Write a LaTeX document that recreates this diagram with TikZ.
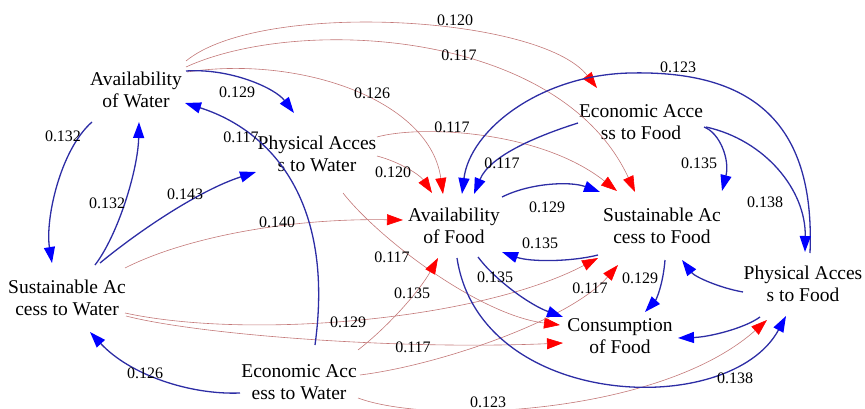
\documentclass[tikz,border=0pt]{standalone}
\usepackage{fontspec}
\setmainfont{Liberation Serif}
\usetikzlibrary{arrows.meta,calc}
\definecolor{bl}{RGB}{45,45,165}
\definecolor{bh}{RGB}{0,0,255}
\definecolor{rl}{RGB}{195,120,120}
\definecolor{rh}{RGB}{255,0,0}
\begin{document}
\begin{tikzpicture}[x=1pt,y=-1pt,
  concept/.style={align=center,inner sep=0pt,font=\fontsize{19.5}{22}\selectfont},
  wt/.style={inner sep=0pt,font=\fontsize{16}{18}\selectfont},
  bedge/.style={draw=bl,line width=1.3pt,-{Triangle[length=16pt,width=11pt,color=bh]}},
  redge/.style={draw=rl,line width=0.6pt,-{Triangle[length=16pt,width=11pt,color=rh]}}]
\useasboundingbox (0,0) rectangle (865,409);
% concepts
\node[concept] (AW)  at (136,90)  {Availability\\of Water};
\node[concept] (PAW) at (317,154) {Physical Acces\\s to Water};
\node[concept] (SAW) at (67,298)  {Sustainable Ac\\cess to Water};
\node[concept] (EAW) at (299,382) {Economic Acc\\ess to Water};
\node[concept] (EAF) at (641,122) {Economic Acce\\ss to Food};
\node[concept] (AF)  at (454,226) {Availability\\of Food};
\node[concept] (SAF) at (662,226) {Sustainable Ac\\cess to Food};
\node[concept] (PAF) at (803,284) {Physical Acces\\s to Food};
\node[concept] (CF)  at (620,336) {Consumption\\of Food};
% red edges
\draw[redge] ($(AW)+(50,-29)$) .. controls (260,0) and (540,15) .. ($(EAF)+(-44,-34)$);
\draw[redge] ($(AW)+(50,-23)$) .. controls (300,15) and (560,30) .. ($(SAF)+(-27,-34)$);
\draw[redge] ($(AW)+(51,-18)$) .. controls (300,55) and (430,100) .. ($(AF)+(-11,-32)$);
\draw[redge] ($(PAW)+(60,-17)$) .. controls (420,125) and (540,130) .. ($(SAF)+(-45,-35)$);
\draw[redge] ($(PAW)+(60,2)$) .. controls (400,162) and (420,175) .. ($(AF)+(-22,-33)$);
\draw[redge] ($(SAW)+(58,-30)$) .. controls (180,240) and (280,218) .. ($(AF)+(-51,-6)$);
\draw[redge] ($(PAW)+(26,39)$) .. controls (380,240) and (480,315) .. ($(CF)+(-60,-11)$);
\draw[redge] ($(EAW)+(59,-32)$) .. controls (390,325) and (420,290) .. ($(AF)+(-16,32)$);
\draw[redge] ($(SAW)+(58,15)$) .. controls (250,340) and (480,320) .. ($(SAF)+(-64,32)$);
\draw[redge] ($(SAW)+(59,18)$) .. controls (200,335) and (400,350) .. ($(CF)+(-57,7)$);
\draw[redge] ($(EAW)+(61,-7)$) .. controls (440,365) and (570,320) .. ($(SAF)+(-44,39)$);
\draw[redge] ($(EAW)+(59,16)$) .. controls (430,425) and (660,415) .. ($(PAF)+(-36,36)$);
% blue edges
\draw[bedge] ($(AW)+(50,-19)$) .. controls (230,68) and (275,88) .. ($(PAW)+(-23,-41)$);
\draw[bedge] ($(EAW)+(16,-37)$) .. controls (335,200) and (270,130) .. ($(AW)+(49,13)$);
\draw[bedge] ($(AW)+(-44,32)$) .. controls (60,150) and (45,220) .. ($(SAW)+(-15,-35)$);
\draw[bedge] ($(SAW)+(28,-33)$) .. controls (118,235) and (138,170) .. ($(AW)+(3,32)$);
\draw[bedge] ($(SAW)+(33,-35)$) .. controls (140,230) and (200,190) .. ($(PAW)+(-61,18)$);
\draw[bedge] ($(EAW)+(-59,11)$) .. controls (190,395) and (130,375) .. ($(SAW)+(23,34)$);
\draw[bedge] ($(EAF)+(-63,1)$) .. controls (540,135) and (490,155) .. ($(AF)+(20,-32)$);
\draw[bedge] ($(PAF)+(7,-31)$) .. controls (815,130) and (760,70) .. (630,73) .. controls (540,75) and (470,130) .. ($(AF)+(8,-32)$);
\draw[bedge] ($(EAF)+(63,5)$) .. controls (720,133) and (730,160) .. ($(SAF)+(60,-35)$);
\draw[bedge] ($(EAF)+(65,5)$) .. controls (765,140) and (806,190) .. ($(PAF)+(2,-32)$);
\draw[bedge] ($(AF)+(48,-29)$) .. controls (530,183) and (570,181) .. ($(SAF)+(-62,-34)$);
\draw[bedge] ($(SAF)+(-64,29)$) .. controls (570,262) and (530,262) .. ($(AF)+(48,26)$);
\draw[bedge] ($(AF)+(24,31)$) .. controls (495,280) and (530,305) .. ($(CF)+(-57,-19)$);
\draw[bedge] ($(SAF)+(3,34)$) .. controls (663,285) and (656,300) .. ($(CF)+(25,-24)$);
\draw[bedge] ($(PAF)+(-60,8)$) .. controls (720,288) and (695,277) .. ($(SAF)+(20,34)$);
\draw[bedge] ($(PAF)+(-43,33)$) .. controls (745,328) and (710,337) .. ($(CF)+(58,2)$);
\draw[bedge] ($(AF)+(3,32)$) .. controls (480,410) and (730,420) .. ($(PAF)+(-17,32)$);
% weights
\node[wt] (w1)  at (455,20)  {0.120};
\node[wt] (w2)  at (459,55)  {0.117};
\node[wt] (w3)  at (372,93)  {0.126};
\node[wt] (w4)  at (452,127) {0.117};
\node[wt] (w5)  at (393,172) {0.120};
\node[wt] (w6)  at (502,163) {0.117};
\node[wt] (w7)  at (678,67)  {0.123};
\node[wt] (w8)  at (699,163) {0.135};
\node[wt] (w9)  at (765,202) {0.138};
\node[wt] (w10) at (237,92)  {0.129};
\node[wt] (w11) at (63,136)  {0.132};
\node[wt] (w12) at (241,137) {0.117};
\node[wt] (w13) at (107,203) {0.132};
\node[wt] (w14) at (185,194) {0.143};
\node[wt] (w15) at (277,222) {0.140};
\node[wt] (w16) at (145,373) {0.126};
\node[wt] (w17) at (547,207) {0.129};
\node[wt] (w18) at (540,243) {0.135};
\node[wt] (w19) at (495,277) {0.135};
\node[wt] (w20) at (392,257) {0.117};
\node[wt] (w21) at (412,293) {0.135};
\node[wt] (w22) at (348,322) {0.129};
\node[wt] (w23) at (413,347) {0.117};
\node[wt] (w24) at (488,402) {0.123};
\node[wt] (w25) at (640,278) {0.129};
\node[wt] (w26) at (590,288) {0.117};
\node[wt] (w27) at (735,378) {0.138};
\end{tikzpicture}
\end{document}
